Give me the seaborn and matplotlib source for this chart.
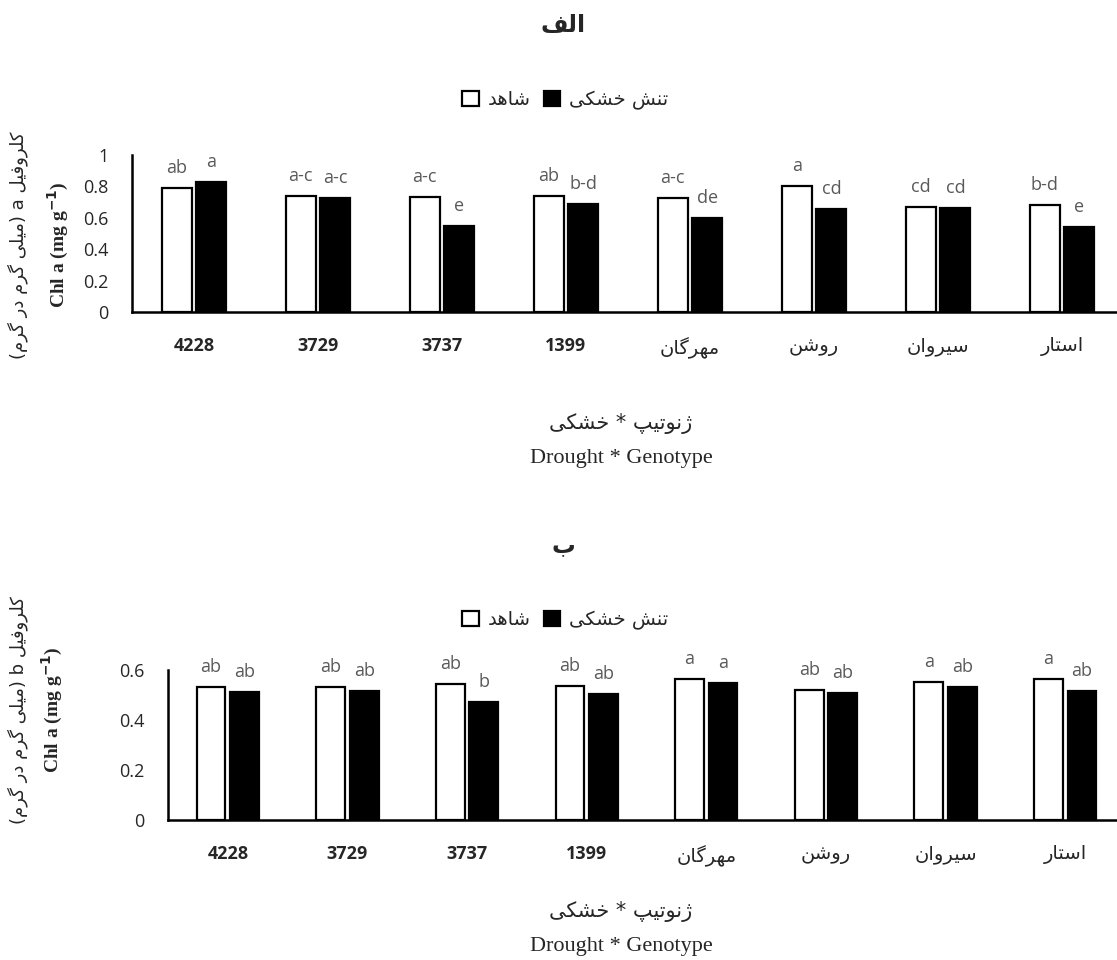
import seaborn as sns
import matplotlib.pyplot as plt
import pandas as pd

# data
genotypes = ['4228', '3729', '3737', '1399', 'مهرگان', 'روشن', 'سیروان', 'استار']
chl_a_control = [0.79, 0.74, 0.73, 0.74, 0.725, 0.80, 0.667, 0.68]
chl_a_drought = [0.83, 0.724, 0.548, 0.686, 0.597, 0.654, 0.662, 0.539]
chl_a_ctrl_letters = ['ab', 'a-c', 'a-c', 'ab', 'a-c', 'a', 'cd', 'b-d']
chl_a_drt_letters = ['a', 'a-c', 'e', 'b-d', 'de', 'cd', 'cd', 'e']

chl_b_control = [0.531, 0.531, 0.543, 0.536, 0.563, 0.52, 0.552, 0.563]
chl_b_drought = [0.512, 0.517, 0.472, 0.503, 0.548, 0.509, 0.533, 0.517]
chl_b_ctrl_letters = ['ab', 'ab', 'ab', 'ab', 'a', 'ab', 'a', 'a']
chl_b_drt_letters = ['ab', 'ab', 'b', 'ab', 'a', 'ab', 'ab', 'ab']

treatments = ['شاهد', 'تنش خشکی']

# simple persian shaping (matplotlib has no arabic text layout)
FORMS = {
    'ا': ('\uFE8D', '\uFE8E'), 'د': ('\uFEA9', '\uFEAA'), 'ر': ('\uFEAD', '\uFEAE'),
    'ژ': ('\uFB8A', '\uFB8B'), 'و': ('\uFEED', '\uFEEE'),
    'ب': ('\uFE8F', '\uFE90', '\uFE91', '\uFE92'), 'ت': ('\uFE95', '\uFE96', '\uFE97', '\uFE98'),
    'خ': ('\uFEA5', '\uFEA6', '\uFEA7', '\uFEA8'), 'س': ('\uFEB1', '\uFEB2', '\uFEB3', '\uFEB4'),
    'ش': ('\uFEB5', '\uFEB6', '\uFEB7', '\uFEB8'), 'ف': ('\uFED1', '\uFED2', '\uFED3', '\uFED4'),
    'ل': ('\uFEDD', '\uFEDE', '\uFEDF', '\uFEE0'), 'م': ('\uFEE1', '\uFEE2', '\uFEE3', '\uFEE4'),
    'ن': ('\uFEE5', '\uFEE6', '\uFEE7', '\uFEE8'), 'ه': ('\uFEE9', '\uFEEA', '\uFEEB', '\uFEEC'),
    'پ': ('\uFB56', '\uFB57', '\uFB58', '\uFB59'), 'ک': ('\uFB8E', '\uFB8F', '\uFB90', '\uFB91'),
    'گ': ('\uFB92', '\uFB93', '\uFB94', '\uFB95'), 'ی': ('\uFBFC', '\uFBFD', '\uFBFE', '\uFBFF'),
}
MIRROR = {'(': ')', ')': '('}


def fa(s):
    out = []
    for i, c in enumerate(s):
        if c not in FORMS:
            out.append(MIRROR.get(c, c))
            continue
        prev = s[i - 1] if i > 0 else ''
        nxt = s[i + 1] if i + 1 < len(s) else ''
        join_prev = prev in FORMS and len(FORMS[prev]) == 4
        join_next = len(FORMS[c]) == 4 and nxt in FORMS
        f = FORMS[c]
        if join_prev and join_next:
            out.append(f[3])
        elif join_next:
            out.append(f[2])
        elif join_prev:
            out.append(f[1])
        else:
            out.append(f[0])
    return ''.join(out[::-1])


sns.set_style('white')
plt.rcParams['font.family'] = ['DejaVu Sans']
FA = ['DejaVu Sans']
LAT = ['Open Sans', 'DejaVu Sans']
SERIF = ['Liberation Serif', 'DejaVu Serif']

fig = plt.figure(figsize=(11.17, 9.6), dpi=100)
ax1 = fig.add_axes([132 / 1117, 1 - 312 / 960, 992 / 1117, 157 / 960])
ax2 = fig.add_axes([168 / 1117, 1 - 820 / 960, 957 / 1117, 150 / 960])


def panel(ax, ctrl, drt, l_ctrl, l_drt, ymax, yticks, persian_lab, eng_lab,
          ylab_y, eng_x, leg_y):
    df = pd.DataFrame({
        'genotype': genotypes * 2,
        'value': ctrl + drt,
        'treatment': [treatments[0]] * 8 + [treatments[1]] * 8,
    })
    sns.barplot(data=df, x='genotype', y='value', hue='treatment', order=genotypes,
                hue_order=treatments, palette={treatments[0]: 'white', treatments[1]: 'black'},
                edgecolor='black', linewidth=1.6, width=0.56, gap=0.14, ax=ax)
    for cont, labs in zip(ax.containers, [l_ctrl, l_drt]):
        for bar, lab in zip(cont, labs):
            ax.annotate(lab, (bar.get_x() + bar.get_width() / 2, bar.get_height()),
                        xytext=(0, 8), textcoords='offset points', ha='center', va='bottom',
                        fontsize=13, color='#595959', family=LAT, annotation_clip=False)
    ax.set_ylim(0, ymax)
    ax.set_xlim(-0.5, 7.5)
    ax.set_yticks(yticks)
    ax.set_yticklabels([('%g' % t) for t in yticks], fontsize=13, family=LAT)
    ax.tick_params(axis='y', length=0, pad=17)
    ax.tick_params(axis='x', length=0, pad=18)
    labs = []
    for g in genotypes:
        if g.isdigit():
            labs.append(g)
        else:
            labs.append(fa(g))
    ax.set_xticks(range(len(genotypes)))
    ax.set_xticklabels(labs, fontsize=13)
    for t, g in zip(ax.get_xticklabels(), genotypes):
        if g.isdigit():
            t.set_family(LAT)
            t.set_fontweight('bold')
        else:
            t.set_family(FA)
            t.set_fontsize(14)
    ax.set_xlabel('')
    ax.set_ylabel('')
    for s in ['top', 'right']:
        ax.spines[s].set_visible(False)
    for s in ['left', 'bottom']:
        ax.spines[s].set_color('black')
        ax.spines[s].set_linewidth(1.8)
    h, _ = ax.get_legend_handles_labels()
    ax.legend(h, [fa(t) for t in treatments], ncol=2, frameon=False, loc='center',
              bbox_to_anchor=(0.506, leg_y), bbox_transform=fig.transFigure,
              handlelength=0.85, handleheight=0.85, handletextpad=0.45,
              columnspacing=0.7, prop={'family': FA, 'size': 14})
    fig.text(18 / 1117, ylab_y, persian_lab, rotation=90, ha='center', va='center',
             fontsize=13, family=FA)
    fig.text(eng_x / 1117, ylab_y, eng_lab, rotation=90, ha='center', va='center',
             fontsize=14, family=SERIF, fontweight='bold')


panel(ax1, chl_a_control, chl_a_drought, chl_a_ctrl_letters, chl_a_drt_letters,
      1.0, [0, 0.2, 0.4, 0.6, 0.8, 1.0], fa('کلروفیل a (میلی گرم در گرم)'),
      r'Chl a (mg g$^{\mathbf{-1}}$)', 1 - 245 / 960, 58, 1 - 100 / 960)
panel(ax2, chl_b_control, chl_b_drought, chl_b_ctrl_letters, chl_b_drt_letters,
      0.6, [0, 0.2, 0.4, 0.6], fa('کلروفیل b (میلی گرم در گرم)'),
      r'Chl a (mg g$^{\mathbf{-1}}$)', 1 - 710 / 960, 52, 1 - 620 / 960)

# titles and x axis titles
fig.text(0.504, 1 - 25 / 960, fa('الف'), ha='center', va='center', fontsize=17,
         fontweight='bold', family=FA)
fig.text(0.504, 1 - 545 / 960, fa('ب'), ha='center', va='center', fontsize=17,
         fontweight='bold', family=FA)
for yy in [423, 912]:
    fig.text(0.556, 1 - yy / 960, fa('ژنوتیپ * خشکی'), ha='center', va='center',
             fontsize=15, family=FA)
    fig.text(0.556, 1 - (yy + 35) / 960, 'Drought * Genotype', ha='center', va='center',
             fontsize=16, family=SERIF)

fig.savefig('out.png', dpi=100)
